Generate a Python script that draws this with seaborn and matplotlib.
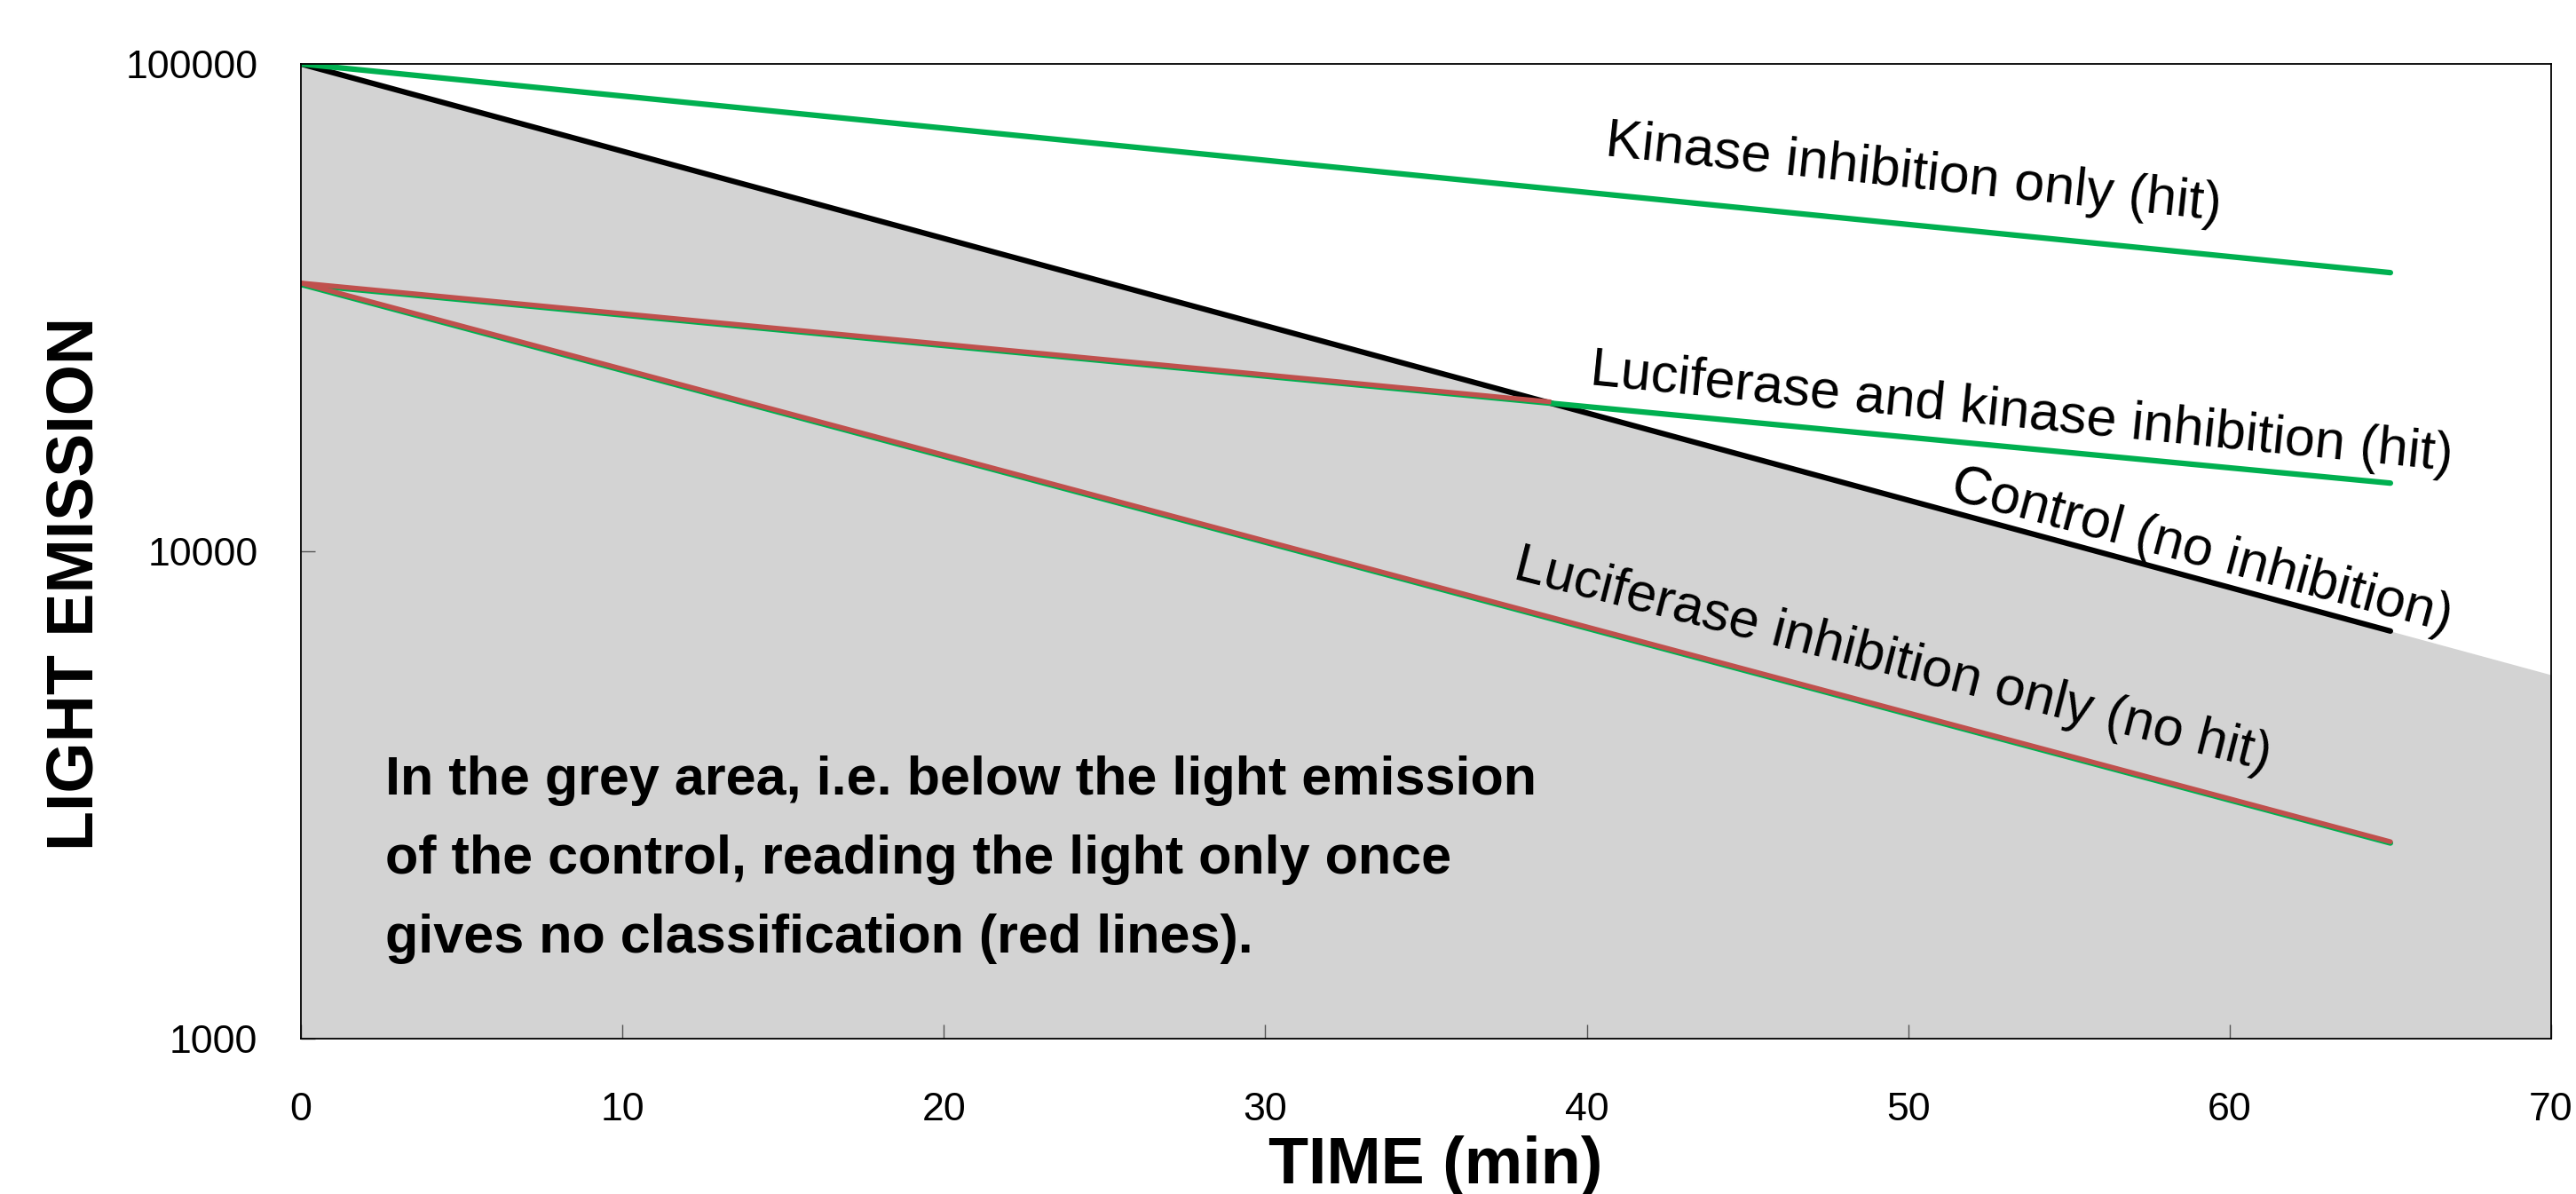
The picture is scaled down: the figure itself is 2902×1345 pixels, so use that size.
import numpy as np
import matplotlib
matplotlib.use("Agg")
import matplotlib.pyplot as plt
from matplotlib import font_manager as fm
from matplotlib.ticker import NullLocator
from matplotlib.transforms import offset_copy
import seaborn as sns

# ---------------- data ----------------
time = [0, 65]                       # minutes
kinase_only = [100000, 37300]        # Kinase inhibition only (hit)
luc_and_kinase = [35300, 13800]      # Luciferase and kinase inhibition (hit)
control = [100000, 6860]             # Control (no inhibition)
luc_only = [35300, 2520]             # Luciferase inhibition only (no hit)
grey_time = [0, 65, 70]              # grey area below the control
grey_top = [100000, 6860, 5580]

x_ticks = [0, 10, 20, 30, 40, 50, 60, 70]
y_ticks = [1000, 10000, 100000]
y_tick_labels = ["1000", "10000", "100000"]

label_kinase = "Kinase inhibition only (hit)"
label_both = "Luciferase and kinase inhibition (hit)"
label_control = "Control (no inhibition)"
label_luc = "Luciferase inhibition only (no hit)"
note = ("In the grey area, i.e. below the light emission\n"
        "of the control, reading the light only once\n"
        "gives no classification (red lines).")

# ---------------- style ----------------
sns.set_theme(style="white")
names = {f.name for f in fm.fontManager.ttflist}
NARROW = "Liberation Sans Narrow" in names
narrow_family = ["Liberation Sans Narrow", "DejaVu Sans"] if NARROW else ["Liberation Sans", "DejaVu Sans"]
k = 1.0 if NARROW else 0.845
plt.rcParams["font.family"] = narrow_family
for key in ["text.color", "axes.labelcolor", "xtick.labelcolor", "ytick.labelcolor"]:
    plt.rcParams[key] = "black"

GREEN = "#00B050"
RED = "#C0504D"
GREY = "#D3D3D3"

W, H = 2902, 1345
fig = plt.figure(figsize=(W / 100, H / 100), dpi=100)
L, R, T, B = 339, 2874, 72, 1170
ax = fig.add_axes([L / W, 1 - B / H, (R - L) / W, (B - T) / H])
ax.set_facecolor("white")

# grey area
ax.fill_between(grey_time, grey_top, 1000, color=GREY, lw=0, zorder=0)

LW = 4.5
# control
sns.lineplot(x=time, y=control, ax=ax, color="black", lw=LW,
             solid_capstyle="round", zorder=3)
# green lines
for series in (kinase_only, luc_and_kinase, luc_only):
    sns.lineplot(x=time, y=series, ax=ax, color=GREEN, lw=LW,
                 solid_capstyle="round", zorder=4)

# red overlays (slightly shifted up so a thin green edge shows below)
up = offset_copy(ax.transData, fig=fig, x=0, y=1.5, units="dots")
sns.lineplot(x=time, y=luc_only, ax=ax, color=RED, lw=LW - 0.6,
             solid_capstyle="round", zorder=5, transform=up)
lc = np.log10(control)
lb = np.log10(luc_and_kinase)
sc = (lc[1] - lc[0]) / (time[1] - time[0])
sb = (lb[1] - lb[0]) / (time[1] - time[0])
t_cross = (lb[0] - lc[0]) / (sc - sb)
y_cross = 10 ** (lb[0] + sb * t_cross)
sns.lineplot(x=[time[0], t_cross], y=[luc_and_kinase[0], y_cross], ax=ax,
             color=RED, lw=LW - 0.6, solid_capstyle="butt", zorder=5,
             transform=up)

ax.set_yscale("log")
ax.set_xlim(0, 70)
ax.set_ylim(1000, 100000)
ax.set_xticks(x_ticks)
ax.set_xticklabels([str(v) for v in x_ticks])
ax.set_yticks(y_ticks)
ax.set_yticklabels(y_tick_labels)
ax.yaxis.set_minor_locator(NullLocator())
ax.tick_params(axis="x", direction="in", length=11.5, width=1.0, color="#555555",
               pad=43, labelsize=38 * k, bottom=True, labelcolor="black")
ax.tick_params(axis="y", direction="in", length=11.5, width=1.0, color="#555555",
               pad=35, labelsize=38 * k, left=True, labelcolor="black")
for s in ax.spines.values():
    s.set_color("black")
    s.set_linewidth(1.3)
    s.set_zorder(6)
ax.set_xlabel("")
ax.set_ylabel("")
ax.grid(False)

# annotations along the lines
def axfrac(px, py):
    return (px - L) / (R - L), 1 - (py - T) / (B - T)

ann = dict(transform=ax.transAxes, fontsize=44, ha="left", va="baseline",
           rotation_mode="anchor", color="black", zorder=7)
if NARROW:
    ann["fontsize"] = 52
ax.text(*axfrac(1807, 175), label_kinase, rotation=-6.0, **ann)
ax.text(*axfrac(1790, 433), label_both, rotation=-5.7, **ann)
ax.text(*axfrac(2195, 561), label_control, rotation=-15.0, **ann)
ax.text(*axfrac(1703, 651), label_luc, rotation=-14.3, **ann)

ax.text(*axfrac(434, 1073), note, transform=ax.transAxes,
        fontsize=(52 if NARROW else 44), color="black",
        fontweight="bold", ha="left", va="baseline", linespacing=1.73, zorder=7)

# axis titles
wide = ["Liberation Sans", "DejaVu Sans"]
fig.text(1617 / W, 1 - 1333 / H, "TIME (min)", family=wide, fontsize=53,
         fontweight="bold", ha="center", va="baseline", color="black")
fig.text(105 / W, 1 - 657 / H, "LIGHT EMISSION", family=wide, fontsize=53,
         fontweight="bold", ha="center", va="baseline", rotation=90,
         rotation_mode="anchor", color="black")

fig.savefig("out.png", dpi=100, facecolor="white")
